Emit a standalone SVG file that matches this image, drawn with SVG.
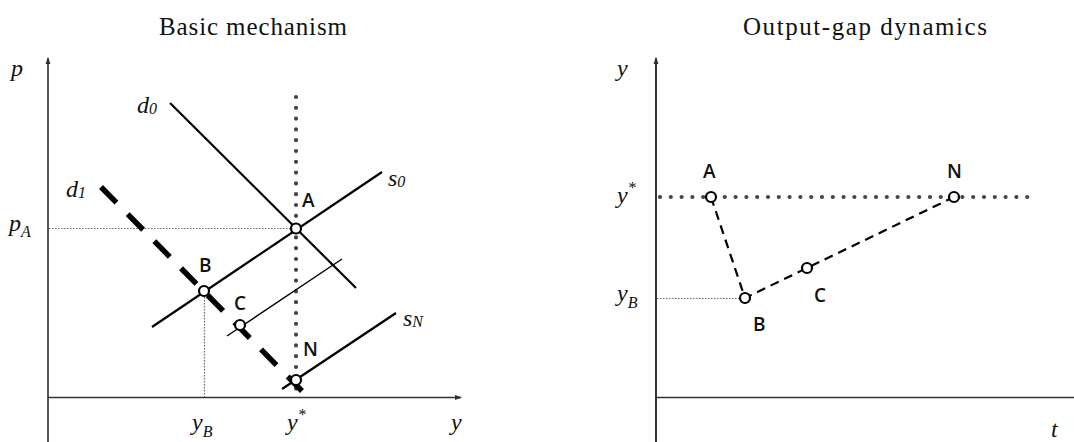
<svg xmlns="http://www.w3.org/2000/svg" width="1074" height="442" viewBox="0 0 1074 442">
<style>
.title{font-family:"Liberation Serif",serif;font-size:25px;fill:#111}
.math{font-family:"Liberation Serif",serif;font-style:italic;font-size:24px;fill:#111}
.sub{font-size:16px}
.pt{font-family:"Open Sans","Liberation Sans",sans-serif;font-weight:600;font-size:19px;fill:#111}
.ln{stroke:#000;stroke-width:2.2;fill:none}
.thin{stroke:#000;stroke-width:1.4;fill:none}
.bigdot{stroke:#444;stroke-width:4.2;stroke-linecap:round;stroke-dasharray:0 10.8;fill:none}
.fine{stroke:#666;stroke-width:1.2;stroke-dasharray:1.5 1.5;fill:none}
.dot{fill:#fff;stroke:#000;stroke-width:2.2}
</style>
<defs>
<marker id="arr" markerWidth="8" markerHeight="8" refX="6" refY="4" orient="auto" markerUnits="userSpaceOnUse">
<path d="M0,1.5 L7,4 L0,6.5 Z" fill="#333"/>
</marker>
</defs>

<text class="title" x="253" y="35" text-anchor="middle" textLength="188" lengthAdjust="spacing">Basic mechanism</text>
<text class="title" x="865" y="35" text-anchor="middle" textLength="244" lengthAdjust="spacing">Output-gap dynamics</text>

<g id="left-axes">
<line x1="48" y1="442" x2="48" y2="58" stroke="#555" stroke-width="2" marker-end="url(#arr)"/>
<line x1="48" y1="397.5" x2="461" y2="397.5" stroke="#333" stroke-width="1.6" marker-end="url(#arr)"/>
<text class="math" x="11" y="76">p</text>
<text class="math" x="9" y="231">p<tspan class="sub" dy="6">A</tspan></text>
<text class="math" x="192" y="430">y<tspan class="sub" dy="7">B</tspan></text>
<text class="math" x="287" y="430">y<tspan class="sub" dy="-10">*</tspan></text>
<text class="math" x="451" y="430">y</text>
</g>

<g id="connectors">
<line class="fine" x1="49" y1="228.5" x2="296" y2="228.5"/>
<line class="fine" x1="204.5" y1="291" x2="204.5" y2="397"/>
<line class="bigdot" x1="296" y1="97" x2="296" y2="395"/>
<line class="ln" x1="170" y1="103" x2="356" y2="288"/>
<line class="ln" x1="152" y1="327" x2="382" y2="172"/>
<line class="thin" x1="227" y1="336" x2="342" y2="259"/>
<line class="ln" x1="282" y1="389" x2="396" y2="313"/>
<line stroke="#000" stroke-width="5.5" stroke-dasharray="22 16" x1="101" y1="187" x2="302" y2="391"/>
</g>

<g id="left-labels">
<text class="math" x="137" y="113">d<tspan class="sub" dy="1">0</tspan></text>
<text class="math" x="66" y="197">d<tspan class="sub" dy="1">1</tspan></text>
<text class="math" x="388" y="186">s<tspan class="sub" dy="1">0</tspan></text>
<text class="math" x="403" y="326">s<tspan class="sub" dy="1">N</tspan></text>
</g>

<g id="node-A-left"><circle class="dot" cx="296" cy="228.5" r="5"/><text class="pt" x="302" y="207">A</text></g>
<g id="node-B-left"><circle class="dot" cx="204" cy="291" r="5"/><text class="pt" x="199" y="272">B</text></g>
<g id="node-C-left"><circle class="dot" cx="240" cy="325" r="5"/><text class="pt" x="234" y="310">C</text></g>
<g id="node-N-left"><circle class="dot" cx="296" cy="380" r="5"/><text class="pt" x="303" y="356">N</text></g>

<g id="right-axes">
<line x1="656" y1="442" x2="656" y2="58" stroke="#000" stroke-width="1.6" marker-end="url(#arr)"/>
<line x1="656" y1="397.5" x2="1074" y2="397.5" stroke="#333" stroke-width="1.6"/>
<text class="math" x="617" y="76">y</text>
<text class="math" x="617" y="203">y<tspan class="sub" dy="-10">*</tspan></text>
<text class="math" x="617" y="301">y<tspan class="sub" dy="7">B</tspan></text>
<text class="math" x="1051" y="437">t</text>
</g>

<g id="right-connectors">
<line class="bigdot" x1="660" y1="197" x2="1028" y2="197"/>
<line class="fine" x1="657" y1="298.5" x2="745" y2="298.5"/>
<polyline stroke="#000" stroke-width="2.2" fill="none" stroke-dasharray="9 6" points="711,197 745,298 807,268 954,197"/>
</g>

<g id="node-A-right"><circle class="dot" cx="711" cy="197" r="5"/><text class="pt" x="703" y="178">A</text></g>
<g id="node-B-right"><circle class="dot" cx="745" cy="298" r="5"/><text class="pt" x="753" y="331">B</text></g>
<g id="node-C-right"><circle class="dot" cx="807" cy="268" r="5"/><text class="pt" x="814" y="302">C</text></g>
<g id="node-N-right"><circle class="dot" cx="954" cy="197" r="5"/><text class="pt" x="947" y="178">N</text></g>
</svg>
